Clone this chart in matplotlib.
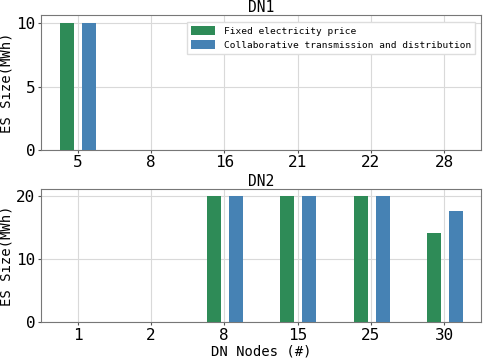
import matplotlib
matplotlib.use("Agg")
import matplotlib.pyplot as plt
import numpy as np

plt.rcParams['font.family'] = ['DejaVu Sans Mono', 'DejaVu Sans']

dn1_nodes = ["5", "8", "16", "21", "22", "28"]
dn1_fixed = [10, 0, 0, 0, 0, 0]
dn1_collab = [10, 0, 0, 0, 0, 0]

dn2_nodes = ["1", "2", "8", "15", "25", "30"]
dn2_fixed = [0, 0, 20, 20, 20, 14.15]
dn2_collab = [0, 0, 20, 20, 20, 17.7]

series_labels = ["Fixed electricity price", "Collaborative transmission and distribution"]
green = "#2E8B57"
blue = "#4682B4"

fig = plt.figure(figsize=(4.84, 3.58), dpi=100)
ax1 = fig.add_axes([0.0847, 0.582, 0.909, 0.376])
ax2 = fig.add_axes([0.0847, 0.0997, 0.909, 0.3723])

def draw(ax, nodes, fixed, collab, ymax, yticks, title):
    x = np.arange(len(nodes))
    ax.bar(x - 0.14, fixed, width=0.19, color=green, label=series_labels[0], zorder=3)
    ax.bar(x + 0.16, collab, width=0.19, color=blue, label=series_labels[1], zorder=3)
    ax.set_xticks(x)
    ax.set_xticklabels(nodes)
    ax.set_xlim(-0.5, len(nodes) - 0.5)
    ax.set_ylim(0, ymax)
    ax.set_yticks(yticks)
    ax.grid(True, color="#d9d9d9", linewidth=0.8, zorder=0)
    ax.set_axisbelow(True)
    ax.tick_params(labelsize=11.5, length=2, pad=2, color="#555555")
    for s in ax.spines.values():
        s.set_color("#777777")
        s.set_linewidth(0.8)
    ax.set_title(title, fontsize=10.5, pad=2)
    ax.set_ylabel("ES Size(MWh)", fontsize=10, labelpad=2)

draw(ax1, dn1_nodes, dn1_fixed, dn1_collab, 10.67, [0, 5, 10], "DN1")
draw(ax2, dn2_nodes, dn2_fixed, dn2_collab, 21.1, [0, 10, 20], "DN2")
ax2.set_xlabel("DN Nodes (#)", fontsize=10, labelpad=1)

ax1.legend(loc="upper right", bbox_to_anchor=(0.986, 0.945), fontsize=6.8,
           frameon=True, fancybox=False, edgecolor="#dddddd", framealpha=1,
           handlelength=2.6, handleheight=1.0, handletextpad=0.9,
           borderpad=0.4, labelspacing=0.5, borderaxespad=0)

fig.savefig("out.png", dpi=100)
